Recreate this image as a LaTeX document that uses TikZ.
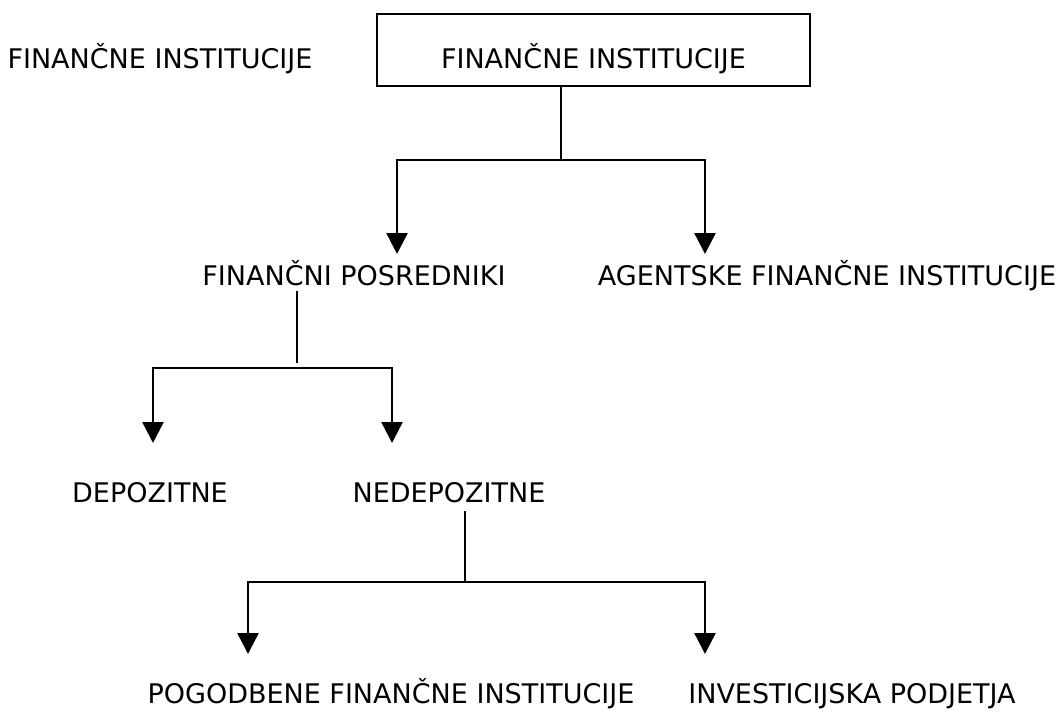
\documentclass[tikz,border=0pt]{standalone}
\usepackage{fontspec}
\setmainfont{DejaVu Sans}
\usetikzlibrary{arrows.meta}

\begin{document}
\begin{tikzpicture}[x=1pt, y=-1pt,
	txt/.style={inner sep=0pt, anchor=base, font=\fontsize{27}{32}\selectfont},
	line/.style={line width=2.4pt},
	arr/.style={line, -{Triangle[length=21pt, width=21pt]}}]
	\useasboundingbox (0,0) rectangle (1062,713);

	\node[txt] (title) at (160,68) {FINANČNE INSTITUCIJE};
	\node[draw, line, inner sep=0pt, minimum width=433pt, minimum height=72pt,
		text height=36pt, text depth=0pt, font=\fontsize{27}{32}\selectfont]
		(finance) at (593.5,50) {FINANČNE INSTITUCIJE};

	\node[txt] (posredniki)    at (354,285) {FINANČNI POSREDNIKI};
	\node[txt] (agentske)      at (827,285) {AGENTSKE FINANČNE INSTITUCIJE};
	\node[txt] (depozitne)     at (150,502) {DEPOZITNE};
	\node[txt] (nedepozitne)   at (449,502) {NEDEPOZITNE};
	\node[txt] (pogodbene)     at (391,703) {POGODBENE FINANČNE INSTITUCIJE};
	\node[txt] (investicijska) at (852,703) {INVESTICIJSKA PODJETJA};

	\coordinate (fork1) at (561,160);
	\coordinate (tip1)  at (397,254);
	\coordinate (tip2)  at (705,254);
	\coordinate (fork2) at (297,368);
	\coordinate (tip3)  at (153,443);
	\coordinate (tip4)  at (392,443);
	\coordinate (fork3) at (465,582);
	\coordinate (tip5)  at (248,654);
	\coordinate (tip6)  at (705,654);

	\draw[line] (fork1 |- finance.south) -- (fork1);
	\draw[arr] (fork1) -| (tip1);
	\draw[arr] (fork1) -| (tip2);

	\draw[line, shorten <=5pt, shorten >=5pt] (fork2 |- posredniki.south) -- (fork2);
	\draw[arr] (fork2) -| (tip3);
	\draw[arr] (fork2) -| (tip4);

	\draw[line, shorten <=8pt] (fork3 |- nedepozitne.south) -- (fork3);
	\draw[arr] (fork3) -| (tip5);
	\draw[arr] (fork3) -| (tip6);
\end{tikzpicture}
\end{document}
